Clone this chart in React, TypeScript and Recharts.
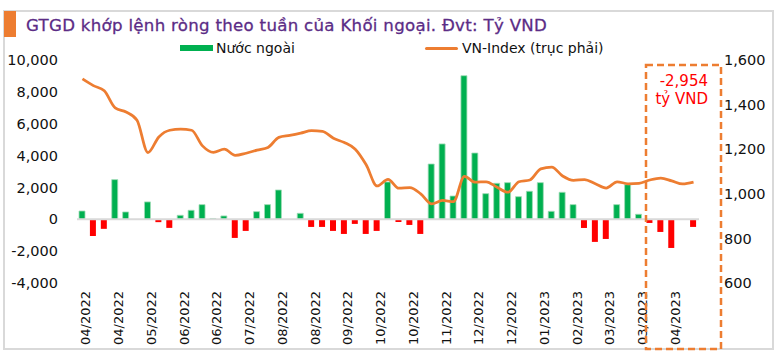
import { Bar, Cell, ComposedChart, Line, ReferenceLine, XAxis, YAxis } from 'recharts'

// Weekly foreign net matched value (bn VND) and VN-Index close
const weeks = [
  '04/2022', '04/2022', '04/2022', '04/2022', '04/2022',
  '05/2022', '05/2022', '05/2022', '05/2022',
  '06/2022', '06/2022', '06/2022', '06/2022',
  '07/2022', '07/2022', '07/2022', '07/2022', '07/2022',
  '08/2022', '08/2022', '08/2022', '08/2022',
  '09/2022', '09/2022', '09/2022', '09/2022', '09/2022',
  '10/2022', '10/2022', '10/2022', '10/2022',
  '11/2022', '11/2022', '11/2022', '11/2022',
  '12/2022', '12/2022', '12/2022', '12/2022', '12/2022',
  '01/2023', '01/2023', '01/2023', '01/2023',
  '02/2023', '02/2023', '02/2023', '02/2023',
  '03/2023', '03/2023', '03/2023', '03/2023', '03/2023',
  '04/2023', '04/2023', '04/2023', '04/2023',
]

const netForeign = [
  520, -1050, -600, 2490, 460, 0, 1090, -180, -540, 250,
  565, 920, 50, 210, -1170, -730, 480, 920, 1840, 0,
  375, -480, -480, -730, -920, -290, -920, -730, 2340, -170,
  -355, -920, 3470, 4730, 1460, 9015, 4160, 1610, 2260, 2300,
  1420, 1760, 2300, 500, 1695, 920, -545, -1420, -1235, 920,
  2175, 315, -230, -795, -1800, 0, -480,
]

const vnIndex = [
  1515, 1485, 1462, 1385, 1367, 1330, 1185, 1255, 1285, 1290,
  1285, 1215, 1186, 1200, 1172, 1182, 1196, 1208, 1253, 1262,
  1272, 1283, 1280, 1249, 1230, 1200, 1130, 1035, 1065, 1025,
  1028, 1000, 955, 970, 965, 1078, 1052, 1054, 1029, 1007,
  1054, 1062, 1112, 1120, 1080, 1060, 1064, 1045, 1026, 1054,
  1045, 1047, 1062, 1070, 1058, 1044, 1052,
]

const leftTicks = [-4000, -2000, 0, 2000, 4000, 6000, 8000, 10000]
const rightTicks = [600, 800, 1000, 1200, 1400, 1600]

const GREEN = '#00B050'
const RED = '#FF0000'
const ORANGE = '#ED7D31'
const FONT = '"DejaVu Sans", sans-serif'

const chartData = weeks.map((week, i) => ({
  week,
  net: netForeign[i],
  vni: vnIndex[i],
}))

const fmt = (v: number) => v.toLocaleString('en-US')

// rotated month label under every third week
const WeekTick = ({ x, y, payload }: { x?: number; y?: number; payload?: { value: string } }) => (
  <text
    x={x}
    y={y}
    dy={8}
    transform={`rotate(-90 ${x} ${y})`}
    textAnchor="end"
    fontSize={13}
    fill="#111"
    fontFamily={FONT}
  >
    {payload?.value}
  </text>
)

export default function App() {
  return (
    <div style={{ position: 'absolute', left: 0, top: 0, width: 780, height: 362, background: '#fff', fontFamily: FONT }}>
      {/* frame + title */}
      <div style={{ position: 'absolute', left: 3, top: 10, width: 771, height: 340, border: '2px solid #d9d9d9', boxSizing: 'border-box' }} />
      <div style={{ position: 'absolute', left: 4, top: 11, width: 12, height: 26, background: ORANGE }} />
      <div
        style={{
          position: 'absolute',
          left: 26,
          top: 15,
          fontSize: 16.6,
          lineHeight: '22px',
          letterSpacing: 0.3,
          color: '#5B2C86',
          whiteSpace: 'nowrap',
          WebkitTextStroke: '0.3px #5B2C86',
        }}
      >
        GTGD khớp lệnh ròng theo tuần của Khối ngoại. Đvt: Tỷ VND
      </div>

      {/* legend */}
      <div style={{ position: 'absolute', left: 0, top: 39, width: 780, height: 20, fontSize: 14, color: '#111' }}>
        <div style={{ position: 'absolute', left: 180, top: 6, width: 33, height: 6, background: GREEN }} />
        <div style={{ position: 'absolute', left: 216, top: 0, lineHeight: '18px' }}>Nước ngoài</div>
        <div style={{ position: 'absolute', left: 425, top: 8, width: 33, height: 3, background: ORANGE, borderRadius: 2 }} />
        <div style={{ position: 'absolute', left: 462, top: 0, lineHeight: '18px' }}>VN-Index (trục phải)</div>
      </div>

      <div style={{ position: 'absolute', left: 0, top: 0 }}>
        <ComposedChart
          width={780}
          height={362}
          data={chartData}
          margin={{ top: 60, right: 0, bottom: 19, left: 0 }}
          style={{ fontFamily: FONT }}
        >
          <XAxis
            dataKey="week"
            interval={2}
            axisLine={false}
            tickLine={false}
            tickSize={0}
            tickMargin={8}
            height={60}
            tick={<WeekTick />}
          />
          <YAxis
            yAxisId="left"
            domain={[-4000, 10000]}
            ticks={leftTicks}
            tickFormatter={fmt}
            axisLine={false}
            tickLine={false}
            tickSize={0}
            tickMargin={19}
            width={77}
            tick={{ fontSize: 14.5, fill: '#111' }}
          />
          <YAxis
            yAxisId="right"
            orientation="right"
            domain={[600, 1600]}
            ticks={rightTicks}
            tickFormatter={fmt}
            axisLine={false}
            tickLine={false}
            tickSize={0}
            tickMargin={25}
            width={81}
            tick={{ fontSize: 14.5, fill: '#111', textAnchor: 'start' }}
          />
          <ReferenceLine yAxisId="left" y={0} stroke="#d9d9d9" strokeWidth={2} />
          <Bar yAxisId="left" dataKey="net" name="Nước ngoài" barSize={6} isAnimationActive={false}>
            {chartData.map((d, i) => (
              <Cell
                key={`bar-${i}`}
                fill={d.net >= 0 ? GREEN : RED}
                stroke={d.net >= 0 ? '#9fdcb6' : 'none'}
                strokeWidth={0.8}
              />
            ))}
          </Bar>
          <Line
            yAxisId="right"
            dataKey="vni"
            name="VN-Index (trục phải)"
            type="monotone"
            stroke={ORANGE}
            strokeWidth={2.75}
            dot={false}
            isAnimationActive={false}
          />
        </ComposedChart>
      </div>

      {/* highlight box for April 2023 */}
      <svg width={780} height={362} style={{ position: 'absolute', left: 0, top: 0, pointerEvents: 'none' }}>
        <rect x={646} y={65} width={75} height={284} fill="none" stroke={ORANGE} strokeWidth={2.5} strokeDasharray="7 4" />
        <text x={708} y={85.5} textAnchor="end" fontSize={15} fill={RED} fontFamily={FONT}>
          -2,954
        </text>
        <text x={708} y={103.5} textAnchor="end" fontSize={15} fill={RED} fontFamily={FONT}>
          tỷ VND
        </text>
      </svg>
    </div>
  )
}
